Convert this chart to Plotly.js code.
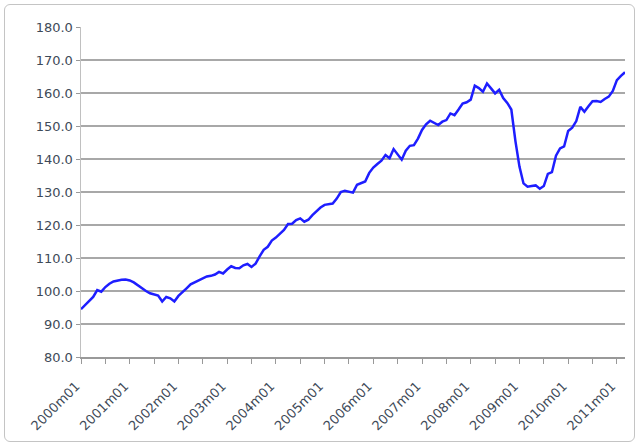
<!DOCTYPE html>
<html>
<head>
<meta charset="utf-8">
<script src="https://cdn.plot.ly/plotly-3.0.1.min.js"></script>
<style>
  html, body { margin: 0; padding: 0; background: #fff; }
  #wrap { position: relative; width: 640px; height: 448px; }
  #chart { width: 640px; height: 448px; }
  #frame { position: absolute; left: 4px; top: 4px; width: 629px; height: 436px;
           border: 1.5px solid #c4c4c4; border-radius: 6px; pointer-events: none; }
</style>
</head>
<body>
<div id="wrap"><div id="chart"></div><div id="frame"></div></div>
<script>
// Monthly index values, 2000m01 .. 2011m03
const startYear = 2000;
const values = [
  94.5, 95.8, 97.0, 98.2, 100.3, 99.8, 101.2, 102.2, 102.9, 103.2, 103.4, 103.5,
  103.2, 102.6, 101.7, 100.8, 100.0, 99.3, 98.9, 98.6, 96.8, 98.2, 97.8, 96.8,
  98.5, 99.8, 100.8, 102.0, 102.6, 103.3, 103.8, 104.4, 104.6, 105.0, 105.8, 105.3,
  106.5, 107.5, 107.0, 106.9, 107.8, 108.2, 107.3, 108.3, 110.5, 112.5, 113.4, 115.3,
  116.2, 117.5, 118.5, 120.3, 120.4, 121.5, 122.0, 121.0, 121.6, 123.0, 124.3, 125.3,
  126.1, 126.3, 126.5, 128.0, 130.0, 130.4, 130.2, 129.8, 132.2, 132.8, 133.2, 135.8,
  137.4, 138.5, 139.5, 141.2, 140.2, 143.0, 141.5, 139.8, 142.5, 144.0, 144.2, 146.2,
  148.8, 150.5, 151.6, 151.0, 150.3, 151.3, 151.8, 153.8, 153.3, 155.0, 156.8, 157.2,
  158.0, 162.2, 161.5, 160.4, 162.9, 161.4, 159.9, 161.0, 158.5, 157.0, 155.0, 145.5,
  137.7, 132.6, 131.6, 131.8, 132.0, 131.0, 131.8, 135.5, 136.0, 141.0, 143.2, 143.8,
  148.5, 149.5, 151.5, 155.8, 154.3, 156.0, 157.5, 157.6, 157.3, 158.2, 158.9, 160.6,
  163.9, 165.2, 166.3
];
const tickLabels = ["2000m01","2001m01","2002m01","2003m01","2004m01","2005m01",
                    "2006m01","2007m01","2008m01","2009m01","2010m01","2011m01"];

// category labels "YYYYmMM"
const categories = values.map((v, i) => {
  const y = startYear + Math.floor(i / 12);
  const m = (i % 12) + 1;
  return y + "m" + (m < 10 ? "0" + m : m);
});

// ticks every 6 months, labels only on January
const tickVals = [], tickText = [];
for (let i = 0; i < categories.length; i += 6) {
  tickVals.push(categories[i]);
  const c = categories[i];
  tickText.push(tickLabels.includes(c) ? c : "");
}

const trace = {
  x: categories,
  y: values,
  type: "scatter",
  mode: "lines",
  line: { color: "#1e1eff", width: 2.5 },
  hoverinfo: "skip"
};

const layout = {
  width: 640, height: 448,
  margin: { l: 81, r: 15, t: 27, b: 91 },
  paper_bgcolor: "#ffffff",
  plot_bgcolor: "#ffffff",
  showlegend: false,
  font: { family: "DejaVu Sans, Verdana, sans-serif", size: 13, color: "#3e4a58" },
  xaxis: {
    type: "category",
    range: [0, categories.length - 1],
    tickmode: "array",
    tickvals: tickVals,
    ticktext: tickText,
    tickangle: -45,
    ticks: "outside",
    ticklen: 5,
    tickcolor: "#999999",
    ticklabelstandoff: 10,
    ticklabelshift: -5,
    showline: true,
    linecolor: "#999999",
    linewidth: 1.5,
    showgrid: false,
    zeroline: false,
    tickfont: { size: 13 }
  },
  yaxis: {
    range: [80, 180],
    dtick: 10,
    tick0: 80,
    tickformat: ".1f",
    ticks: "outside",
    ticklen: 4,
    tickcolor: "#999999",
    showline: true,
    linecolor: "#c0c0c0",
    linewidth: 1.5,
    showgrid: true,
    gridcolor: "#a8a8a8",
    gridwidth: 1.5,
    zeroline: false,
    tickfont: { size: 13 }
  }
};

Plotly.newPlot("chart", [trace], layout, { staticPlot: true, displayModeBar: false });
</script>
</body>
</html>
